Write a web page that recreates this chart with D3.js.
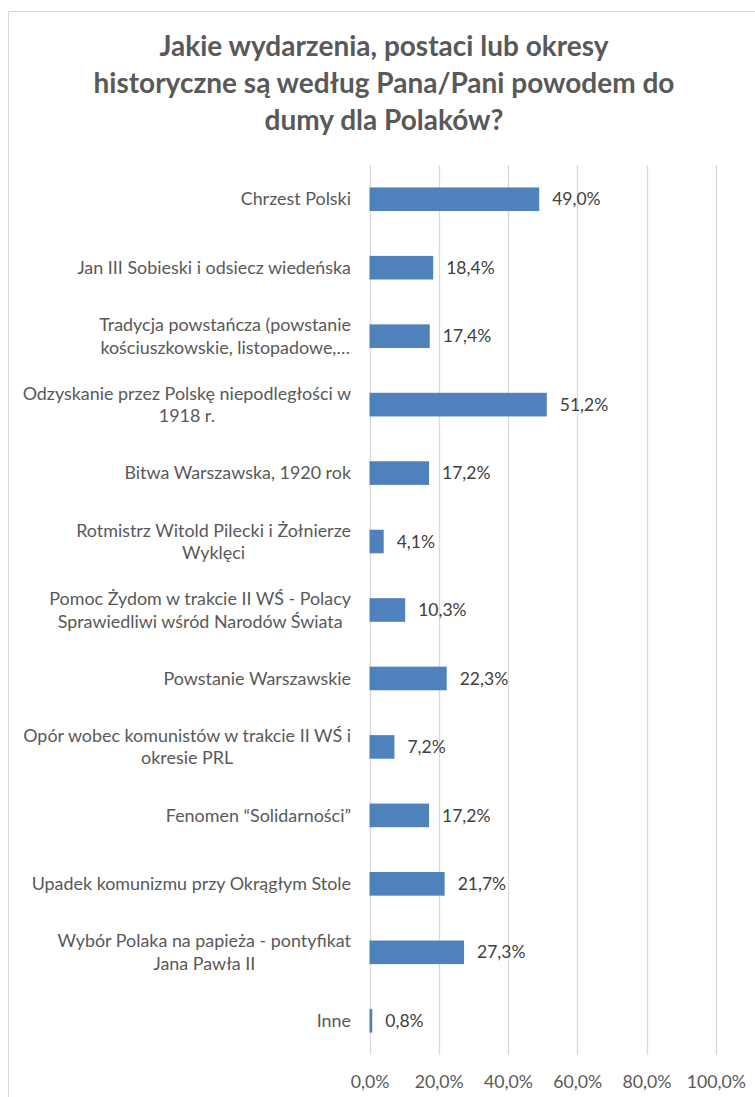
<!DOCTYPE html>
<html><head><meta charset="utf-8">
<script src="https://cdn.jsdelivr.net/npm/d3@7"></script>
<style>
html,body{margin:0;padding:0;background:#fff;}
svg{display:block;font-family:Lato,"Open Sans",sans-serif;}
</style></head>
<body>
<script>
const titleLines = ["Jakie wydarzenia, postaci lub okresy","historyczne są według Pana/Pani powodem do","dumy dla Polaków?"];
const categories = [
  "Chrzest Polski",
  "Jan III Sobieski i odsiecz wiedeńska",
  "Tradycja powstańcza (powstanie\nkościuszkowskie, listopadowe,…",
  "Odzyskanie przez Polskę niepodległości w\n1918 r.",
  "Bitwa Warszawska, 1920 rok",
  "Rotmistrz Witold Pilecki i Żołnierze\nWyklęci",
  "Pomoc Żydom w trakcie II WŚ - Polacy\nSprawiedliwi wśród Narodów Świata",
  "Powstanie Warszawskie",
  "Opór wobec komunistów w trakcie II WŚ i\nokresie PRL",
  "Fenomen “Solidarności”",
  "Upadek komunizmu przy Okrągłym Stole",
  "Wybór Polaka na papieża - pontyfikat\nJana Pawła II",
  "Inne"
];
const values = [49.0,18.4,17.4,51.2,17.2,4.1,10.3,22.3,7.2,17.2,21.7,27.3,0.8];
const ticks = [0,20,40,60,80,100];

const W=755,H=1097;
const svg=d3.select("body").append("svg").attr("width",W).attr("height",H);
// border
svg.append("path").attr("d",`M8.5,${H} V11.5 H${W}`).attr("fill","none").attr("stroke","#d9d9d9").attr("stroke-width",1);

const fmt = v => v.toFixed(1).replace(".",",")+"%";
const x=d3.scaleLinear().domain([0,100]).range([369.5,715.8]);
const y=d3.scaleBand().domain(categories).range([165,1055]).paddingInner(0.655).paddingOuter(0.3275);

// title
const t=svg.append("text").attr("text-anchor","middle").attr("fill","#595959")
  .style("font-weight","bold").style("font-size","28px");
titleLines.forEach((l,i)=>t.append("tspan").attr("x",384).attr("y",56+i*37).text(l));

// grid
svg.append("g").selectAll("line").data(ticks).join("line")
  .attr("x1",d=>Math.round(x(d))+0.5).attr("x2",d=>Math.round(x(d))+0.5)
  .attr("y1",165).attr("y2",1055).attr("stroke","#d9d9d9").attr("stroke-width",1.3);

// axis labels
const ax=d3.axisBottom(x).tickValues(ticks).tickFormat(d=>d.toFixed(1).replace(".",",")+"%").tickSize(0).tickPadding(0);
const ag=svg.append("g").attr("transform","translate(0,1075)").call(ax);
ag.select(".domain").remove();
ag.selectAll("text").attr("fill","#595959").style("font-size","17.7px").style("font-family","Lato");

// bars
svg.append("g").selectAll("rect").data(values).join("rect")
  .attr("x",x(0)).attr("y",(d,i)=>y(categories[i]))
  .attr("width",d=>x(d)-x(0)).attr("height",y.bandwidth())
  .attr("fill","#4f81bd");

// value labels
svg.append("g").selectAll("text").data(values).join("text")
  .attr("x",d=>x(d)+13).attr("y",(d,i)=>y(categories[i])+y.bandwidth()/2)
  .attr("dy","0.35em").attr("fill","#404040").style("font-size","17.5px")
  .text(fmt);

// category labels
const cg=svg.append("g");
categories.forEach(c=>{
  const lines=c.split("\n");
  const cy=y(c)+y.bandwidth()/2;
  const lh=22.5;
  const txt=cg.append("text").attr("text-anchor","middle").attr("fill","#595959").style("font-size","17.9px");
  lines.forEach((l,i)=>{
    txt.append("tspan").attr("y",cy+(i-(lines.length-1)/2)*lh).attr("dy","0.35em").text(l);
  });
  const tsp=txt.selectAll("tspan").nodes();
  const maxW=d3.max(tsp,n=>n.getComputedTextLength());
  tsp.forEach(n=>d3.select(n).attr("x",351-maxW/2));
});
</script>
</body></html>
